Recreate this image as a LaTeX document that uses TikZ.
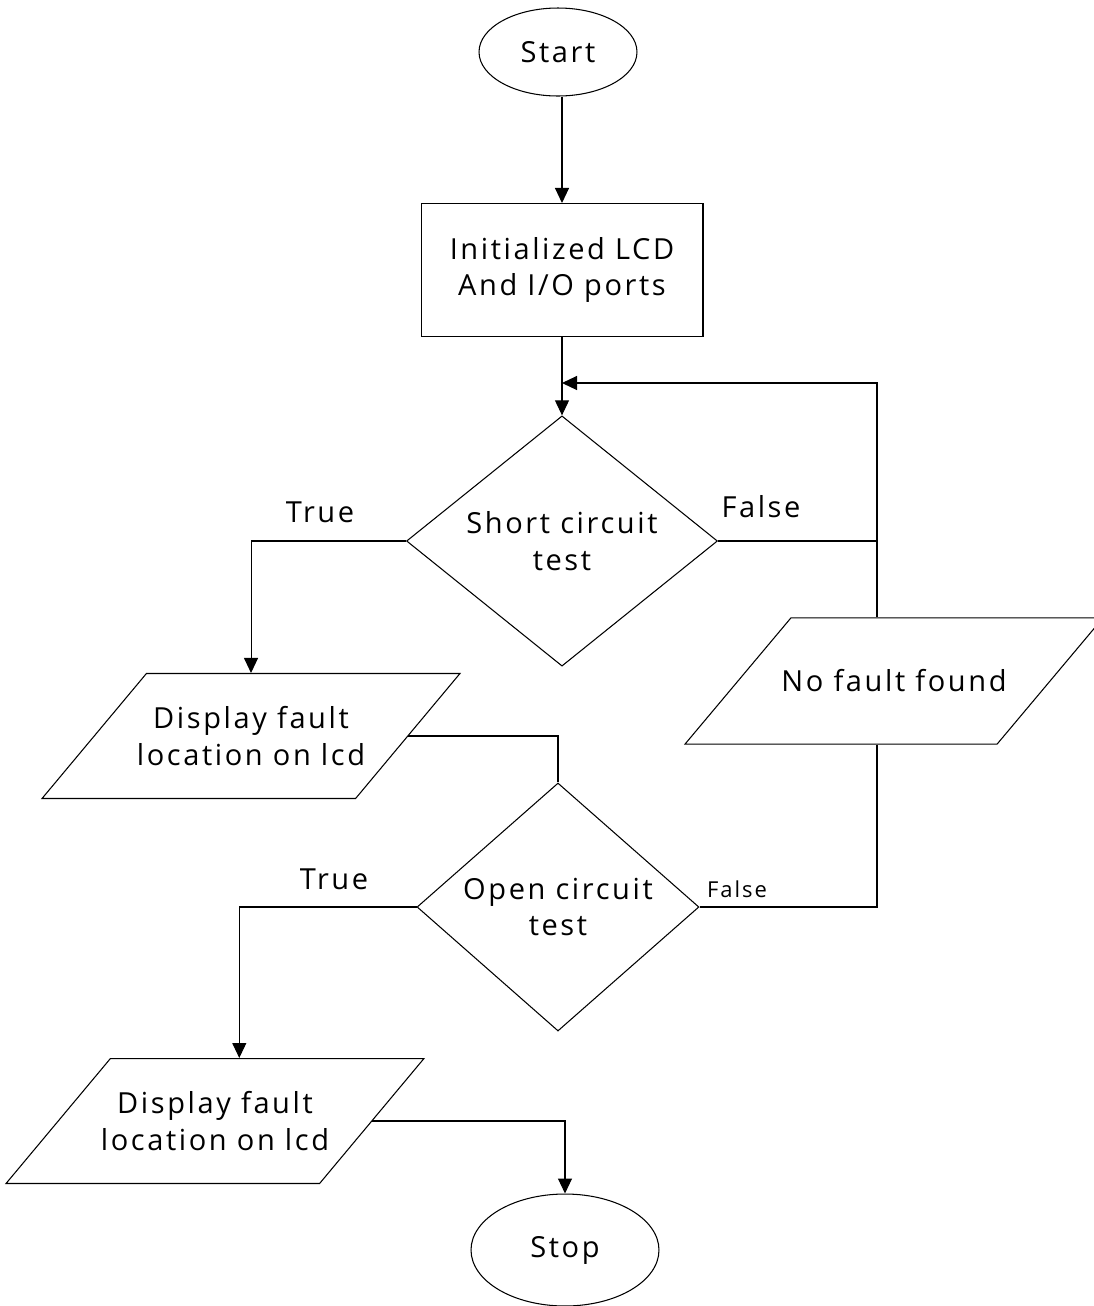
\documentclass[tikz,border=0pt]{standalone}
\usepackage{fontspec}
\setmainfont{Open Sans}[LetterSpace=9]
\usetikzlibrary{shapes.geometric,arrows.meta,calc}
\newcommand\flowfont{\fontsize{16.5}{21}\selectfont}
\newcommand\flowsmall{\fontsize{12.5}{15}\selectfont}
\tikzset{term/.style={black,draw=black,ellipse,inner sep=0pt,font=\flowfont}}
\tikzset{proc/.style={black,draw=black,rectangle,align=center,minimum width=5.64cm,minimum height=2.66cm,font=\flowfont}}
\tikzset{decision/.style={black,draw=black,diamond,align=center,inner sep=0pt,font=\flowfont}}
\tikzset{io/.style={black,draw=black,trapezium,trapezium left angle=50,trapezium right angle=130,trapezium stretches body,minimum width=8.36cm,minimum height=2.5cm,inner xsep=-6pt,inner ysep=18.5pt,align=center,font=\flowfont}}
\tikzset{lbl/.style={black,font=\flowfont}}
\tikzset{>={Triangle[length=0.3cm,width=0.28cm]}}

\begin{document}
\begin{tikzpicture}[x=0.02cm,y=-0.02cm,line width=0.6pt]
                \useasboundingbox (0,0) rectangle (1094,1306);

                \node[term,minimum width=3.16cm,minimum height=1.76cm] (start) at (558,52) {Start};
                \node[proc] (init) at (562,270) {Initialized LCD\\And I/O ports};
                \node[decision,minimum width=6.22cm,minimum height=4.52cm] (shortTest) at (562,541) {Short circuit\\test};
                \node[io] (showShort) at (251,736) {Display fault\\location on lcd};
                \node[io,inner ysep=29.5pt] (noFault) at (894,681) {No fault found};
                \node[decision,minimum width=5.64cm,minimum height=4.26cm] (openTest) at (558,907) {Open circuit\\test};
                \node[io] (showOpen) at (215,1121) {Display fault\\location on lcd};
                \node[term,minimum width=3.76cm,minimum height=2.24cm] (stop) at (565,1250) {Stop};
                \coordinate (back) at (877,383);

                \node[lbl] (trueShort) at (320,512) {True};
                \node[lbl] (falseShort) at (761,507) {False};
                \node[lbl] (trueOpen) at (334,879) {True};
                \node[lbl,font=\flowsmall] (falseOpen) at (737,889) {False};

                \draw[->] (init.north |- start.south) -- (init.north);
                \draw[->] (init) -- (shortTest);
                \draw[->] (back |- noFault.north) |- (init.south |- back);
                \draw (shortTest.east) -- (shortTest.east -| back);
                \draw[->] (shortTest.west) -| (showShort);
                \draw (showShort.east) -| (openTest.north);
                \draw[->] (openTest.west) -| ($(showOpen.top left corner)!0.41!(showOpen.top right corner)$);
                \draw (noFault.south -| back) |- (openTest.east);
                \draw[->] (showOpen.east) -| (stop);
                \end{tikzpicture}
\end{document}
